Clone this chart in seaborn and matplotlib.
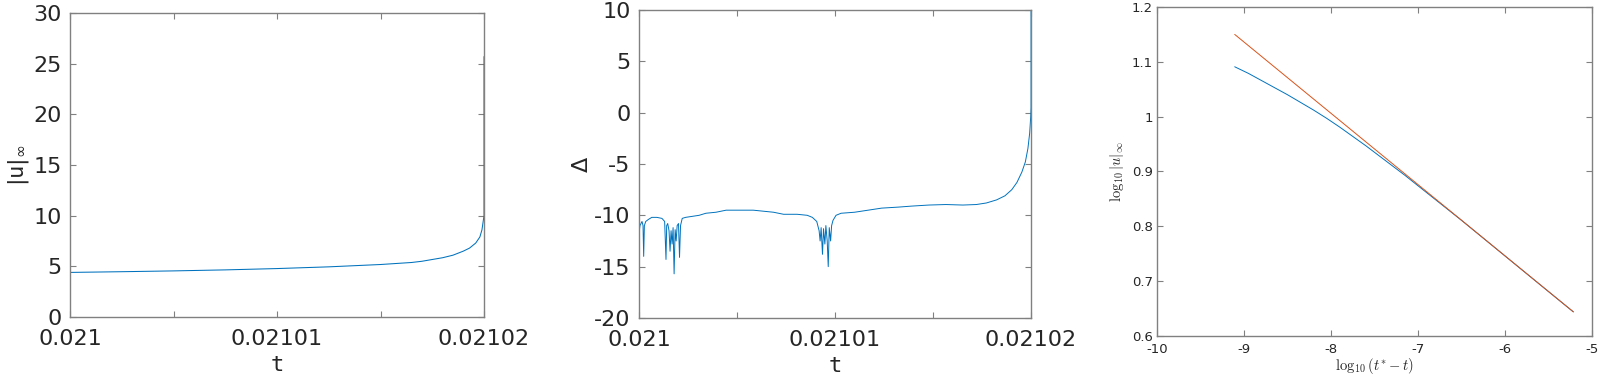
import numpy as np
import pandas as pd
import matplotlib
matplotlib.use('Agg')
import matplotlib.pyplot as plt
import seaborn as sns
from matplotlib.ticker import FuncFormatter

# ------------------------------------------------------------
# data
# ------------------------------------------------------------
# panel 1: |u|_inf against t
t1 = [0.021, 0.0210025, 0.021005, 0.0210075, 0.02101, 0.0210125, 0.021015,
      0.0210165, 0.021017, 0.021018, 0.0210185, 0.021019, 0.0210193,
      0.0210196, 0.0210198, 0.0210199, 0.02102, 0.02102]
u1 = [4.40, 4.47, 4.55, 4.65, 4.78, 4.95, 5.18, 5.38, 5.50, 5.85, 6.10, 6.50,
      6.80, 7.30, 7.90, 8.60, 10.0, 25.7]

# panel 2: Delta against t (t given as offset from 0.021, in 1e-6)
t2_off = [0.0, 0.017, 0.052, 0.103, 0.155, 0.207, 0.241, 0.276, 0.345, 0.483,
          0.655, 0.914, 1.172, 1.310, 1.379, 1.414, 1.466, 1.534, 1.586, 1.638,
          1.690, 1.741, 1.793, 1.845, 1.897, 1.948, 2.017, 2.069, 2.121, 2.207,
          2.379, 2.724, 3.069, 3.414, 3.931, 4.448, 5.138, 5.828, 6.345, 6.862,
          7.379, 8.069, 8.586, 8.845, 9.069, 9.190, 9.241, 9.293, 9.362, 9.414,
          9.483, 9.534, 9.603, 9.655, 9.707, 9.776, 9.828, 9.897, 10.052,
          10.310, 11.00, 11.69, 12.38, 13.24, 13.93, 14.79, 15.66, 16.52, 17.21,
          17.72, 18.24, 18.67, 19.02, 19.28, 19.53, 19.71, 19.84, 19.93, 19.98,
          20.0, 20.0]
delta2 = [-16.0, -11.5, -11.0, -10.8, -10.6, -11.0, -14.0, -11.0, -10.6, -10.4,
          -10.2, -10.2, -10.3, -10.6, -14.3, -11.0, -10.8, -11.5, -13.5, -11.5,
          -12.8, -11.2, -15.7, -11.4, -12.5, -11.0, -10.8, -14.1, -11.0, -10.3,
          -10.2, -10.1, -10.0, -9.8, -9.7, -9.5, -9.5, -9.5, -9.6, -9.7,
          -9.9, -9.9, -10.0, -10.2, -10.6, -11.5, -12.5, -11.2, -13.8, -11.3,
          -12.8, -11.0, -12.5, -15.0, -11.2, -12.5, -11.0, -10.5, -10.0,
          -9.8, -9.7, -9.5, -9.3, -9.2, -9.1, -9.0, -8.95, -9.0, -8.95,
          -8.8, -8.5, -8.1, -7.5, -6.8, -5.8, -4.8, -3.5, -2.0, -0.5,
          0.5, 10.0]

# panel 3: log-log data and the fitted line
logdt = [-9.107, -8.95, -8.8, -8.65, -8.5, -8.35, -8.2, -8.05, -7.9, -7.75,
         -7.6, -7.45, -7.3, -7.15, -7.0, -6.5, -6.0, -5.5, -5.214]
logu = [1.091, 1.079, 1.066, 1.053, 1.040, 1.026, 1.012, 0.997, 0.981, 0.964,
        0.947, 0.929, 0.911, 0.893, 0.874, 0.811, 0.746, 0.681, 0.644]
fit_x = [-9.107, -5.214]
fit_y = [1.150, 0.644]

# ------------------------------------------------------------
# style
# ------------------------------------------------------------
sns.set_theme(style='white')
plt.rcParams['font.family'] = ['DejaVu Sans']
plt.rcParams['axes.unicode_minus'] = False
plt.rcParams['mathtext.fontset'] = 'dejavusans'

BLUE = '#0072BD'
ORANGE = '#D95319'
SPINE = '#808080'
TXT = '#262626'

fig = plt.figure(figsize=(15.99, 3.79), dpi=100)
ax1 = fig.add_axes([0.0438, 0.1636, 0.2589, 0.802])
ax2 = fig.add_axes([0.3996, 0.161, 0.2452, 0.8127])
ax3 = fig.add_axes([0.7236, 0.1135, 0.272, 0.868])


def matlab_box(ax, size, xpad, ypad):
    for s in ax.spines.values():
        s.set_visible(True)
        s.set_color(SPINE)
        s.set_linewidth(1.0)
    ax.tick_params(direction='in', length=4, width=0.8, color=SPINE,
                   top=True, right=True, labelsize=size, labelcolor=TXT,
                   bottom=True, left=True)
    ax.tick_params(axis='x', pad=xpad)
    ax.tick_params(axis='y', pad=ypad)


# --- panel 1 ---
df1 = pd.DataFrame({'t': t1, 'u': u1})
sns.lineplot(data=df1, x='t', y='u', ax=ax1, color=BLUE, lw=0.75,
             estimator=None, sort=False)
ax1.set_xlim(0.021, 0.02102)
ax1.set_ylim(0, 30)
ax1.set_yticks(np.arange(0, 31, 5))
ax1.set_xticks([0.021, 0.021005, 0.02101, 0.021015, 0.02102])
ax1.set_xlabel('t', family='DejaVu Sans Mono', fontsize=16, color=TXT,
               labelpad=4)
ax1.set_ylabel(r'$|\mathtt{u}|_\infty$', fontsize=16, color=TXT, labelpad=2)

# --- panel 2 ---
df2 = pd.DataFrame({'t': 0.021 + np.array(t2_off) * 1e-6, 'd': delta2})
sns.lineplot(data=df2, x='t', y='d', ax=ax2, color=BLUE, lw=0.7,
             estimator=None, sort=False)
ax2.set_xlim(0.021, 0.02102)
ax2.set_ylim(-20, 10)
ax2.set_yticks(np.arange(-20, 11, 5))
ax2.set_xticks([0.021, 0.021005, 0.02101, 0.021015, 0.02102])
ax2.set_xlabel('t', family='DejaVu Sans Mono', fontsize=16, color=TXT,
               labelpad=4)
ax2.set_ylabel('Δ', fontsize=16, color=TXT, labelpad=2)

xfmt = FuncFormatter(lambda v, p: '' if p % 2 else '%g' % round(v, 6))
for ax in (ax1, ax2):
    ax.xaxis.set_major_formatter(xfmt)
    ax.yaxis.set_major_formatter(FuncFormatter(lambda v, p: '%g' % v))
    matlab_box(ax, 16, 9, 6)

# --- panel 3 ---
df3 = pd.DataFrame({'x': logdt, 'y': logu})
sns.lineplot(data=df3, x='x', y='y', ax=ax3, color=BLUE, lw=0.7,
             estimator=None, sort=False)
df3f = pd.DataFrame({'x': fit_x, 'y': fit_y})
sns.lineplot(data=df3f, x='x', y='y', ax=ax3, color=ORANGE, lw=0.7,
             estimator=None, sort=False)
ax3.set_xlim(-10, -5)
ax3.set_ylim(0.6, 1.2)
ax3.set_xticks(np.arange(-10, -4, 1))
ax3.set_yticks(np.round(np.arange(0.6, 1.21, 0.1), 1))
ax3.yaxis.set_major_formatter(FuncFormatter(lambda v, p: '%g' % round(v, 1)))
ax3.xaxis.set_major_formatter(FuncFormatter(lambda v, p: '%g' % v))
matlab_box(ax3, 9.5, 5, 3)
ax3.set_xlabel(r'$\log_{10}(t^{*}-t)$', fontsize=10.5, color=TXT, labelpad=0,
               math_fontfamily='cm')
ax3.set_ylabel(r'$\log_{10}|u|_\infty$', fontsize=10.5, color=TXT, labelpad=4,
               math_fontfamily='cm')

fig.savefig('out.png', dpi=100)
